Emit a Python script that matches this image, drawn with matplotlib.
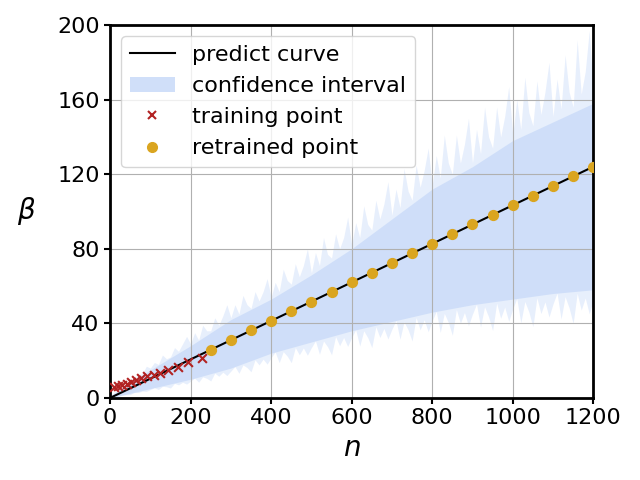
import matplotlib
matplotlib.use('Agg')
import matplotlib.pyplot as plt
from matplotlib.patches import Patch

# predict curve
pred_n = [0, 1200]
pred_beta = [0, 124]

# training points (red x)
train_n = [10, 20, 30, 42, 52, 65, 77, 91, 108, 124, 145, 168, 194, 228]
train_beta = [6, 6.5, 7, 7.5, 8.5, 9.5, 10.5, 11.5, 12.5, 13.5, 15, 16.5, 19, 21.5]

# retrained points (gold dots)
retrain_n = [250, 300, 350, 400, 450, 500, 550, 600, 650, 700,
             750, 800, 850, 900, 950, 1000, 1050, 1100, 1150, 1200]
retrain_beta = [25.8, 31, 36.2, 41.3, 46.5, 51.7, 56.8, 62, 67.2, 72.3,
                77.5, 82.7, 87.8, 93, 98.2, 103.3, 108.5, 113.7, 118.8, 124]

# confidence interval, dense core
core_n = [0, 100, 200, 300, 400, 500, 600, 700, 800, 900, 1000, 1100, 1200]
core_hi = [1, 15, 28, 42, 53, 66, 80, 96, 112, 124, 138, 148, 158]
core_lo = [0, 5, 10, 16, 24, 30, 36, 41, 46, 50, 53, 56, 58]

# confidence interval, noisy outer edge (every 10)
band_n = list(range(0, 1201, 10))
band_hi = [1, 3, 4, 6.5, 7, 10, 10, 12.5, 13, 17,
           16, 19, 18, 23, 21, 22, 27, 25, 29, 33,
           29, 35, 31, 39, 36, 36, 43, 39, 44, 50,
           43, 50, 45, 55, 50, 48, 57, 52, 57, 64,
           54, 62, 57, 69, 63, 61, 72, 65, 71, 80,
           67, 78, 71, 86, 77, 75, 88, 80, 86, 97,
           82, 94, 86, 103, 93, 90, 106, 96, 104, 116,
           98, 112, 102, 123, 111, 106, 125, 113, 122, 134,
           114, 130, 118, 141, 126, 120, 141, 126, 136, 150,
           126, 144, 131, 156, 140, 134, 156, 140, 151, 167,
           141, 160, 144, 172, 153, 146, 170, 152, 164, 180,
           151, 171, 155, 184, 164, 156, 192, 163, 175, 197,
           165]
band_lo = [0, 0.5, 0.8, 1.4, 1.7, 1.8, 2.9, 2.9, 3.7, 3.5,
           4.5, 5.5, 4.5, 6.2, 6, 5.3, 7.8, 7, 8.4, 7.4,
           9, 10.6, 8.4, 11.3, 10.5, 9.1, 13.3, 11.6, 13.8, 12,
           14.4, 16.8, 13.2, 17.7, 16.3, 14, 20.4, 17.7, 20.8, 18.1,
           21.6, 24.6, 18.9, 24.8, 22.4, 18.9, 27, 23.1, 26.8, 22.9,
           27, 30.6, 23.4, 30.5, 27.5, 23.1, 32.9, 28, 32.4, 27.6,
           32.4, 36.5, 27.8, 36, 32.3, 27, 38.2, 32.4, 37.2, 31.6,
           36.9, 41.5, 31.5, 40.8, 36.6, 30.5, 43.1, 36.5, 41.9, 35.5,
           41.4, 46.4, 35.1, 45.3, 40.5, 33.6, 47.4, 40, 45.8, 38.7,
           45, 50.3, 38, 48.9, 43.5, 36.1, 50.8, 42.7, 48.7, 41.1,
           47.7, 53.3, 40.2, 51.7, 46.1, 38.2, 53.7, 45.2, 51.5, 43.4,
           50.4, 56.2, 42.3, 54.3, 48.3, 39.9, 56.1, 47.1, 53.6, 45.1,
           52.2]

fig, ax = plt.subplots(figsize=(6.4, 4.8), dpi=100)

ax.fill_between(band_n, band_lo, band_hi, color='cornflowerblue', alpha=0.15, linewidth=0)
ax.fill_between(core_n, core_lo, core_hi, color='cornflowerblue', alpha=0.18, linewidth=0)
ax.plot(pred_n, pred_beta, color='black', linewidth=1.5, zorder=3)
ax.scatter(train_n, train_beta, marker='x', color='#b22222', s=40, linewidths=1.5, zorder=4)
ax.scatter(retrain_n, retrain_beta, marker='o', color='goldenrod', s=50, zorder=4)

ax.set_xlim(0, 1200)
ax.set_ylim(0, 200)
ax.set_xticks([0, 200, 400, 600, 800, 1000, 1200])
ax.set_yticks([0, 40, 80, 120, 160, 200])
ax.tick_params(labelsize=16, width=1.5, length=4)
ax.set_xlabel('$n$', fontsize=20)
ax.set_ylabel(r'$\beta$', fontsize=20, rotation=0, va='center', labelpad=22)
ax.grid(True)
for s in ax.spines.values():
    s.set_linewidth(2)

handles = [
    plt.Line2D([], [], color='black', linewidth=1.5),
    Patch(color='cornflowerblue', alpha=0.3, linewidth=0),
    plt.Line2D([], [], marker='x', color='#b22222', linestyle='none', markersize=6, markeredgewidth=1.5),
    plt.Line2D([], [], marker='o', color='goldenrod', linestyle='none', markersize=7),
]
labels = ['predict curve', 'confidence interval', 'training point', 'retrained point']
ax.legend(handles, labels, loc='upper left', fontsize=16)

fig.subplots_adjust(left=0.172, right=0.927, top=0.948, bottom=0.171)
fig.savefig('out.png', dpi=100)
